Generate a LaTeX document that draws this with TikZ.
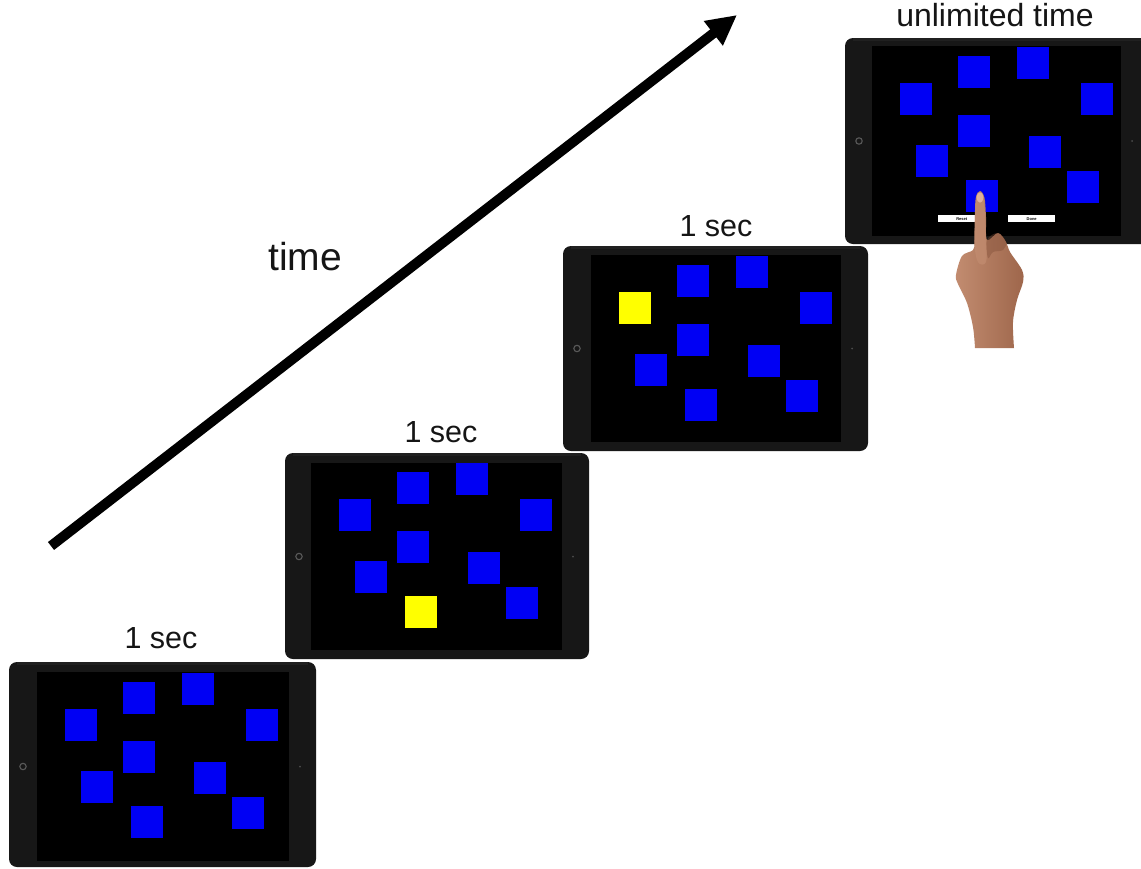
\documentclass[tikz,border=0pt]{standalone}
\usepackage{fontspec}
\setmainfont{Liberation Sans}
\usetikzlibrary{arrows.meta}
\definecolor{bez}{HTML}{171717}
\definecolor{bezsoft}{HTML}{202020}
\definecolor{sq}{HTML}{0000F4}
\definecolor{yel}{HTML}{FFFF00}
\definecolor{skin}{HTML}{B47A5C}
\definecolor{skinleft}{HTML}{C28C70}
\definecolor{skinright}{HTML}{9E664B}
\definecolor{skindark}{HTML}{7E4C36}
\definecolor{skinlight}{HTML}{DDB09C}
\definecolor{ink}{HTML}{151515}
\tikzset{
  lab/.style={anchor=base,text=ink,inner sep=0pt,font=\fontsize{30.5}{34}\selectfont},
  bezelbox/.style={fill=bez,draw=none,rounded corners=8pt},
  screenbox/.style={fill=black,draw=none},
  btn/.style={fill=white,draw=none},
  timearrow/.style={line width=10pt,draw=black,-{Triangle[length=30pt,width=29pt]}},
}
\newcommand{\padbody}[8]{%
  \fill[bezelbox] (#1,#2) rectangle (#3,#4);
  \fill[bezsoft] (#1+8,#2) rectangle (#3-8,#2+3);
  \fill[screenbox] (#5,#6) rectangle (#7,#8);
  \draw[line width=1.1pt,draw=black!65!white] ({#1+14},{(#6+#8)/2}) circle (3.2pt);
  \fill[black!70!white] ({#7+11},{(#6+#8)/2}) circle (1pt);
}
\newcommand{\padsquares}[3]{%
  \foreach \dx/\dy [count=\i] in {0/0,58/-27,117/-36,181/0,58/32,16/62,129/53,167/88,66/97}{
    \ifnum\i=#3\relax
      \fill[yel] (#1+\dx,#2+\dy) rectangle +(31.5,31.5);
    \else
      \fill[sq] (#1+\dx,#2+\dy) rectangle +(31.5,31.5);
    \fi
  }%
}
\begin{document}
\begin{tikzpicture}[x=1pt,y=-1pt]
\useasboundingbox (0,0) rectangle (1141,868);
\clip (0,0) rectangle (1141,868);
\fill[white] (0,0) rectangle (1141,868);

% tablets
\padbody{9}{662}{316}{867}{37}{672}{289}{861}
\padsquares{65}{709}{0}
\padbody{285}{453}{589}{659}{311}{463}{562}{650}
\padsquares{339}{499}{9}
\padbody{563}{246}{868}{451}{591}{255}{841}{442}
\padsquares{619}{292}{1}
\padbody{845}{38}{1160}{244}{872}{46}{1121}{236}
\padsquares{900}{83}{0}

% buttons
\node[btn,minimum width=47pt,minimum height=7pt,inner sep=0pt,anchor=north west] (reset) at (938,215)
  {\fontsize{4}{4}\selectfont\textbf{Reset}};
\node[btn,minimum width=47pt,minimum height=7pt,inner sep=0pt,anchor=north west] (done) at (1008,215)
  {\fontsize{4}{4}\selectfont\textbf{Done}};

% hand
\shade[left color=skinleft,right color=skinright]
  plot[smooth,tension=0.55] coordinates {
  (975,348) (973,327) (967,303) (958,284) (956,275) (962,256) (973,250) (974.5,240)
  (975.5,200) (980,191) (984.5,198) (986,217) (987,240) (998,233) (1006,242) (1010,252)
  (1022,270) (1023,282) (1017,300) (1013,322) (1014,348)} -- cycle;
\fill[skindark,opacity=.4] plot[smooth cycle,tension=0.6] coordinates {
  (987,240) (998,233) (1006,242) (1003,250) (993,252) (988,258)};
\fill[skinleft,opacity=.75] plot[smooth cycle,tension=0.6] coordinates {
  (976,200) (980,193) (984,200) (986,240) (986,262) (978,262) (974.5,242)};
\fill[skinlight] (980,197.5) ellipse (3.4pt and 5.2pt);

% arrow
\coordinate (tail) at (51,546);
\coordinate (tip) at (737,15);
\draw[timearrow] (tail) -- (tip);

% labels
\node[lab] (l1) at (161,648) {1 sec};
\node[lab] (l2) at (441,442) {1 sec};
\node[lab] (l3) at (716,236) {1 sec};
\node[lab,font=\fontsize{32}{36}\selectfont] (l4) at (995,26) {unlimited time};
\node[lab,font=\fontsize{39}{42}\selectfont] (ltime) at (305,270) {time};
\end{tikzpicture}
\end{document}
